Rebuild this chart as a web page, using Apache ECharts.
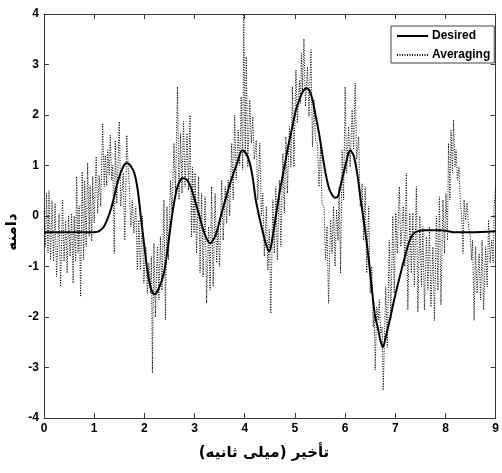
<!DOCTYPE html>
<html>
<head>
<meta charset="utf-8">
<script src="https://cdn.jsdelivr.net/npm/echarts@6/dist/echarts.min.js"></script>
<style>html,body{margin:0;padding:0;background:#fff}#c{width:502px;height:473px}</style>
</head>
<body>
<div id="c"></div>
<script>
const xTicks = [0, 1, 2, 3, 4, 5, 6, 7, 8, 9];
const yTicks = [-4, -3, -2, -1, 0, 1, 2, 3, 4];
const seriesNames = ['Desired', 'Averaging'];
const xTitle = 'تأخیر (میلی ثانیه)\u200F';
const yTitle = 'دامنه';

const desired = [
[0,-0.32],[0.5,-0.32],[1.0,-0.32],[1.1,-0.3],[1.2,-0.2],[1.34,0.16],[1.48,0.71],[1.58,0.98],[1.65,1.05],[1.72,1.0],[1.80,0.85],[1.87,0.5],[1.93,-0.02],[2.0,-0.6],[2.05,-1.0],[2.12,-1.4],[2.20,-1.55],[2.28,-1.45],[2.39,-1.13],[2.47,-0.6],[2.55,0.0],[2.64,0.51],[2.72,0.72],[2.78,0.75],[2.86,0.7],[2.95,0.5],[3.08,0.06],[3.2,-0.35],[3.31,-0.54],[3.42,-0.38],[3.54,0.06],[3.65,0.45],[3.73,0.71],[3.85,1.05],[3.95,1.3],[4.02,1.25],[4.10,1.05],[4.16,0.75],[4.22,0.32],[4.32,-0.15],[4.42,-0.55],[4.49,-0.7],[4.55,-0.45],[4.62,0.0],[4.70,0.5],[4.79,0.97],[4.87,1.4],[4.95,1.77],[5.02,2.1],[5.09,2.3],[5.15,2.45],[5.22,2.53],[5.28,2.5],[5.35,2.3],[5.42,1.95],[5.48,1.64],[5.55,1.2],[5.61,0.85],[5.68,0.55],[5.74,0.42],[5.8,0.36],[5.86,0.4],[5.92,0.65],[5.97,0.85],[6.03,1.1],[6.10,1.3],[6.17,1.2],[6.24,0.85],[6.30,0.4],[6.37,-0.08],[6.44,-0.6],[6.50,-1.13],[6.55,-1.6],[6.60,-2.0],[6.65,-2.2],[6.70,-2.45],[6.75,-2.6],[6.82,-2.35],[6.89,-2.06],[6.98,-1.65],[7.09,-1.2],[7.18,-0.85],[7.28,-0.5],[7.36,-0.35],[7.45,-0.3],[7.6,-0.28],[7.9,-0.28],[8.05,-0.3],[8.15,-0.32],[8.5,-0.32],[9.0,-0.3]
];

const averaging = [
[0.00,0.1],[0.03,-0.6],[0.05,0.45],[0.08,-0.73],[0.10,0.5],[0.13,-0.87],[0.16,0.3],[0.19,-0.9],[0.22,0.25],[0.25,-1.2],[0.30,0.05],[0.33,-1.4],[0.37,0.33],[0.40,-0.9],[0.43,-0.1],[0.46,-1.13],[0.49,0.0],[0.52,-0.8],[0.55,0.05],[0.58,-1.33],[0.60,0.0],[0.63,-0.9],[0.65,0.78],[0.68,-0.74],[0.70,0.2],[0.73,-1.6],[0.76,0.88],[0.79,-0.87],[0.81,0.7],[0.84,-0.6],[0.87,1.05],[0.90,-0.41],[0.92,0.6],[0.95,-0.5],[0.97,0.78],[1.00,-0.14],[1.04,1.18],[1.07,0.05],[1.10,0.81],[1.13,0.19],[1.17,1.84],[1.20,0.58],[1.22,1.2],[1.25,0.6],[1.27,1.31],[1.30,0.81],[1.32,1.6],[1.35,0.71],[1.37,1.0],[1.40,-0.74],[1.42,1.5],[1.45,0.25],[1.50,1.87],[1.53,0.19],[1.58,0.85],[1.61,-0.48],[1.65,1.6],[1.68,0.9],[1.70,0.58],[1.73,-0.21],[1.76,0.32],[1.79,-0.34],[1.83,0.19],[1.86,-1.07],[1.89,-0.08],[1.92,-1.07],[1.96,0.0],[1.99,-1.33],[2.03,-0.61],[2.06,-1.53],[2.09,-0.93],[2.12,-1.53],[2.14,-0.8],[2.16,-3.11],[2.19,-0.54],[2.22,-2.0],[2.26,-0.6],[2.29,-1.66],[2.32,-0.41],[2.35,-1.47],[2.39,0.32],[2.42,-2.06],[2.45,0.19],[2.48,-0.87],[2.52,0.71],[2.55,0.06],[2.59,1.44],[2.62,0.45],[2.66,2.56],[2.69,0.32],[2.72,1.64],[2.75,0.45],[2.78,1.87],[2.81,0.58],[2.85,1.64],[2.88,0.51],[2.91,2.0],[2.94,-0.41],[2.96,0.97],[2.99,-0.34],[3.01,0.85],[3.04,-0.74],[3.08,0.78],[3.11,-1.13],[3.14,0.45],[3.17,-1.2],[3.21,0.38],[3.24,-1.73],[3.28,-0.21],[3.31,-1.47],[3.34,0.58],[3.37,-1.4],[3.41,0.45],[3.44,-0.93],[3.47,-0.21],[3.50,-1.0],[3.54,0.71],[3.57,-0.48],[3.61,0.58],[3.64,-0.14],[3.67,0.71],[3.70,0.0],[3.74,1.44],[3.77,0.32],[3.80,2.0],[3.83,0.71],[3.87,1.7],[3.90,1.0],[3.93,2.36],[3.96,0.91],[3.98,3.98],[4.01,1.2],[4.03,3.15],[4.06,0.97],[4.10,2.3],[4.13,1.44],[4.16,1.97],[4.19,1.12],[4.23,1.5],[4.26,0.32],[4.30,1.44],[4.33,0.0],[4.36,0.45],[4.39,-0.8],[4.43,0.19],[4.46,-1.07],[4.49,-0.27],[4.52,-1.93],[4.56,0.32],[4.59,-0.74],[4.62,0.58],[4.65,-0.87],[4.69,0.71],[4.72,-0.61],[4.76,1.24],[4.79,0.06],[4.82,1.57],[4.85,0.45],[4.89,1.77],[4.92,0.97],[4.95,2.56],[4.98,0.97],[5.02,2.89],[5.05,1.84],[5.09,2.69],[5.11,2.23],[5.13,3.22],[5.15,2.49],[5.18,3.51],[5.21,2.17],[5.25,2.96],[5.28,1.97],[5.32,3.29],[5.35,1.37],[5.38,2.3],[5.41,1.5],[5.45,1.44],[5.48,0.58],[5.51,1.37],[5.54,0.25],[5.58,0.19],[5.61,-0.87],[5.64,-0.21],[5.67,-1.73],[5.71,-0.08],[5.74,-0.74],[5.77,0.19],[5.80,-1.0],[5.83,0.13],[5.86,-0.48],[5.88,0.58],[5.91,-1.13],[5.94,1.31],[5.97,0.32],[6.00,2.56],[6.03,0.85],[6.07,1.77],[6.10,0.97],[6.14,2.1],[6.17,1.31],[6.20,2.63],[6.23,1.12],[6.27,1.57],[6.30,0.19],[6.34,0.64],[6.37,-0.48],[6.40,0.58],[6.43,-1.13],[6.47,0.19],[6.50,-1.53],[6.53,-1.0],[6.56,-2.2],[6.58,-1.93],[6.60,-3.05],[6.63,-1.8],[6.66,-2.07],[6.68,-1.66],[6.71,-2.33],[6.74,-2.2],[6.76,-3.45],[6.81,-1.4],[6.84,-2.6],[6.88,-0.48],[6.91,-2.06],[6.95,0.0],[6.98,-1.53],[7.01,0.06],[7.04,-0.74],[7.08,0.58],[7.11,-0.61],[7.16,0.19],[7.19,-1.0],[7.22,0.85],[7.25,-1.86],[7.29,0.06],[7.32,-1.13],[7.35,0.06],[7.38,-1.4],[7.42,0.58],[7.45,-1.9],[7.49,0.0],[7.52,-1.4],[7.55,-0.21],[7.58,-1.86],[7.62,-0.41],[7.65,-1.47],[7.68,-0.21],[7.71,-1.8],[7.75,-0.61],[7.78,-2.07],[7.82,0.0],[7.85,-1.47],[7.88,0.38],[7.91,-1.76],[7.95,0.32],[7.98,-0.74],[8.01,0.45],[8.04,-0.48],[8.06,1.44],[8.09,0.32],[8.11,1.7],[8.14,0.85],[8.16,1.9],[8.19,0.97],[8.21,1.31],[8.24,0.71],[8.27,0.97],[8.30,0.19],[8.32,0.06],[8.35,-0.74],[8.37,0.32],[8.40,-0.08],[8.43,0.26],[8.46,-0.21],[8.49,-0.34],[8.52,-0.87],[8.54,-0.48],[8.57,-2.07],[8.60,-0.61],[8.63,-1.53],[8.67,-0.74],[8.70,-1.66],[8.73,-0.48],[8.76,-1.86],[8.80,-0.61],[8.83,-1.4],[8.86,-0.08],[8.89,-0.93],[8.92,-0.48],[8.95,-0.93],[8.97,0.2],[9.00,0.61]
];

const chart = echarts.init(document.getElementById('c'), null, {renderer: 'canvas'});
const axisColor = '#3a3a3a';
const labelFont = {color: '#000', fontWeight: 'bold', fontSize: 12, fontFamily: 'Liberation Sans, Arial, sans-serif'};

function xAxisCfg(pos, showLabel) {
  return {
    type: 'value', position: pos, min: xTicks[0], max: xTicks[xTicks.length - 1], interval: 1,
    axisLine: {show: true, onZero: false, lineStyle: {color: axisColor, width: 1}},
    axisTick: {show: true, inside: true, length: 5, lineStyle: {color: axisColor}},
    axisLabel: Object.assign({show: showLabel, margin: 5}, labelFont),
    splitLine: {show: false}
  };
}
function yAxisCfg(pos, showLabel) {
  return {
    type: 'value', position: pos, min: yTicks[0], max: yTicks[yTicks.length - 1], interval: 1,
    axisLine: {show: true, onZero: false, lineStyle: {color: axisColor, width: 1}},
    axisTick: {show: true, inside: true, length: 5, lineStyle: {color: axisColor}},
    axisLabel: Object.assign({show: showLabel, margin: 5}, labelFont),
    splitLine: {show: false}
  };
}

chart.setOption({
  animation: false,
  backgroundColor: '#fff',
  grid: {left: 44, right: 2, top: 14, bottom: 55, containLabel: false},
  xAxis: [xAxisCfg('bottom', true), xAxisCfg('top', false)],
  yAxis: [yAxisCfg('left', true), yAxisCfg('right', false)],
  legend: {
    data: seriesNames,
    orient: 'vertical',
    left: 391, top: 26,
    padding: [4, 4, 2, 5],
    itemGap: 7,
    itemWidth: 31, itemHeight: 14,
    itemStyle: {opacity: 0},
    borderColor: '#444', borderWidth: 1, backgroundColor: '#fff',
    textStyle: {color: '#000', fontWeight: 'bold', fontSize: 12, fontFamily: 'Liberation Sans, Arial, sans-serif', padding: [0, 0, 0, -1]}
  },
  graphic: [
    {type: 'text', x: 264, y: 453, style: {text: xTitle, font: 'bold 15px "DejaVu Sans"', fill: '#000', align: 'center', verticalAlign: 'middle'}},
    {type: 'text', x: 5, y: 232, rotation: Math.PI / 2, style: {text: yTitle, font: 'bold 15px "DejaVu Sans"', fill: '#000', align: 'center', verticalAlign: 'top'}}
  ],
  series: [
    {
      name: seriesNames[1], type: 'line', xAxisIndex: 0, yAxisIndex: 0,
      data: averaging, symbol: 'none', showSymbol: false, z: 2,
      lineStyle: {color: '#000', width: 1, type: [1, 1.5]},
      itemStyle: {color: '#000'}
    },
    {
      name: seriesNames[0], type: 'line', xAxisIndex: 0, yAxisIndex: 0,
      data: desired, symbol: 'none', showSymbol: false, smooth: 0.3, z: 3,
      lineStyle: {color: '#000', width: 2},
      itemStyle: {color: '#000'}
    }
  ]
});
</script>
</body>
</html>
